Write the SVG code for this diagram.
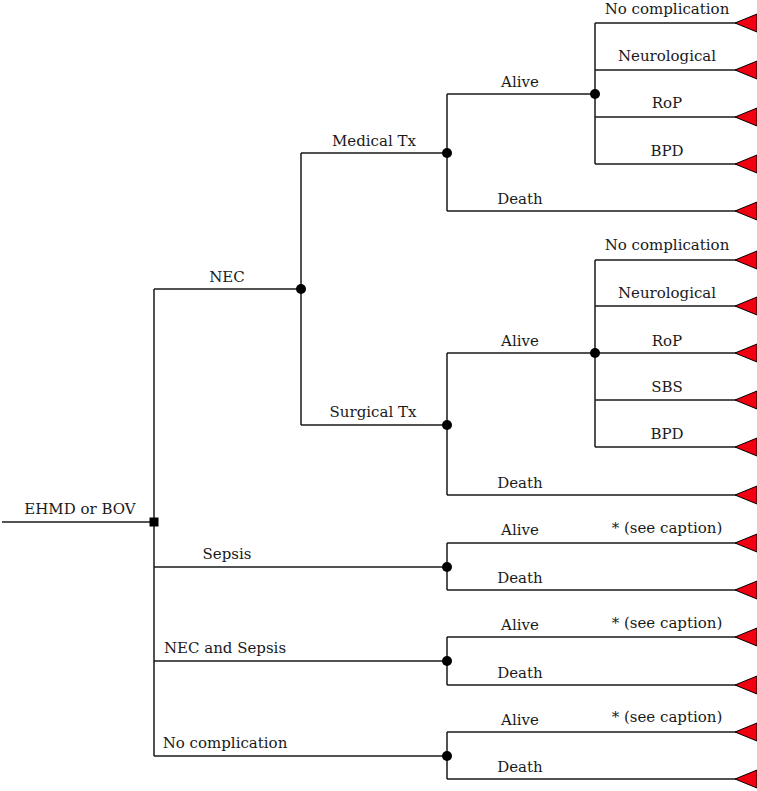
<svg xmlns="http://www.w3.org/2000/svg" width="757" height="791" viewBox="0 0 757 791">
<style>
.l{stroke:#1a1a1a;stroke-width:1.5;fill:none}
.d{fill:#000}
.lbl{font-family:'DejaVu Serif','Liberation Serif',serif;font-size:15px;fill:#1a1a1a;text-anchor:middle}
</style>
<defs>
<polygon id="tri" points="0,0 22,-9 22,9" fill="#f00010" stroke="#000" stroke-width="1"/>
</defs>
<g id="connectors" class="l">
<path d="M2,522H154M154,289V756"/>
<path d="M154,289H301M154,567H447M154,661H447M154,756H447"/>
<path d="M301,153V425M301,153H447M301,425H447"/>
<path d="M447,94V211M447,94H595M447,211H740"/>
<path d="M595,23V164M595,23H740M595,70H740M595,117H740M595,164H740"/>
<path d="M447,353V495M447,353H595M447,495H740"/>
<path d="M595,260V447M595,260H740M595,306H740M595,353H740M595,400H740M595,447H740"/>
<path d="M447,543V590M447,543H740M447,590H740"/>
<path d="M447,637V685M447,637H740M447,685H740"/>
<path d="M447,732V779M447,732H740M447,779H740"/>
</g>
<g class="lbl">
<g id="root"><rect x="149.5" y="517.5" width="9" height="9" class="d"/><text x="80" y="514">EHMD or BOV</text></g>
<g id="n-nec"><circle cx="301" cy="289" r="5" class="d"/><text x="227" y="282">NEC</text></g>
<g id="n-sepsis"><circle cx="447" cy="567" r="5" class="d"/><text x="227" y="559">Sepsis</text></g>
<g id="n-necsepsis"><circle cx="447" cy="661" r="5" class="d"/><text x="225" y="653">NEC and Sepsis</text></g>
<g id="n-nocomp"><circle cx="447" cy="756" r="5" class="d"/><text x="225" y="748">No complication</text></g>
<g id="n-medical"><circle cx="447" cy="153" r="5" class="d"/><text x="374" y="146">Medical Tx</text></g>
<g id="n-surgical"><circle cx="447" cy="425" r="5" class="d"/><text x="373" y="417">Surgical Tx</text></g>
<g id="n-med-alive"><circle cx="595" cy="94" r="5" class="d"/><text x="520" y="87">Alive</text></g>
<g id="n-surg-alive"><circle cx="595" cy="353" r="5" class="d"/><text x="520" y="346">Alive</text></g>
<g id="leaves">
<use href="#tri" x="735" y="23"/><text x="667" y="14">No complication</text>
<use href="#tri" x="735" y="70"/><text x="667" y="61">Neurological</text>
<use href="#tri" x="735" y="117"/><text x="667" y="108">RoP</text>
<use href="#tri" x="735" y="164"/><text x="667" y="156">BPD</text>
<use href="#tri" x="735" y="211"/><text x="520" y="204">Death</text>
<use href="#tri" x="735" y="260"/><text x="667" y="250">No complication</text>
<use href="#tri" x="735" y="306"/><text x="667" y="298">Neurological</text>
<use href="#tri" x="735" y="353"/><text x="667" y="346">RoP</text>
<use href="#tri" x="735" y="400"/><text x="667" y="392">SBS</text>
<use href="#tri" x="735" y="447"/><text x="667" y="439">BPD</text>
<use href="#tri" x="735" y="495"/><text x="520" y="488">Death</text>
<use href="#tri" x="735" y="543"/><text x="520" y="535">Alive</text><text x="667" y="533">* (see caption)</text>
<use href="#tri" x="735" y="590"/><text x="520" y="583">Death</text>
<use href="#tri" x="735" y="637"/><text x="520" y="630">Alive</text><text x="667" y="628">* (see caption)</text>
<use href="#tri" x="735" y="685"/><text x="520" y="678">Death</text>
<use href="#tri" x="735" y="732"/><text x="520" y="725">Alive</text><text x="667" y="722">* (see caption)</text>
<use href="#tri" x="735" y="779"/><text x="520" y="772">Death</text>
</g>
</g>
</svg>
